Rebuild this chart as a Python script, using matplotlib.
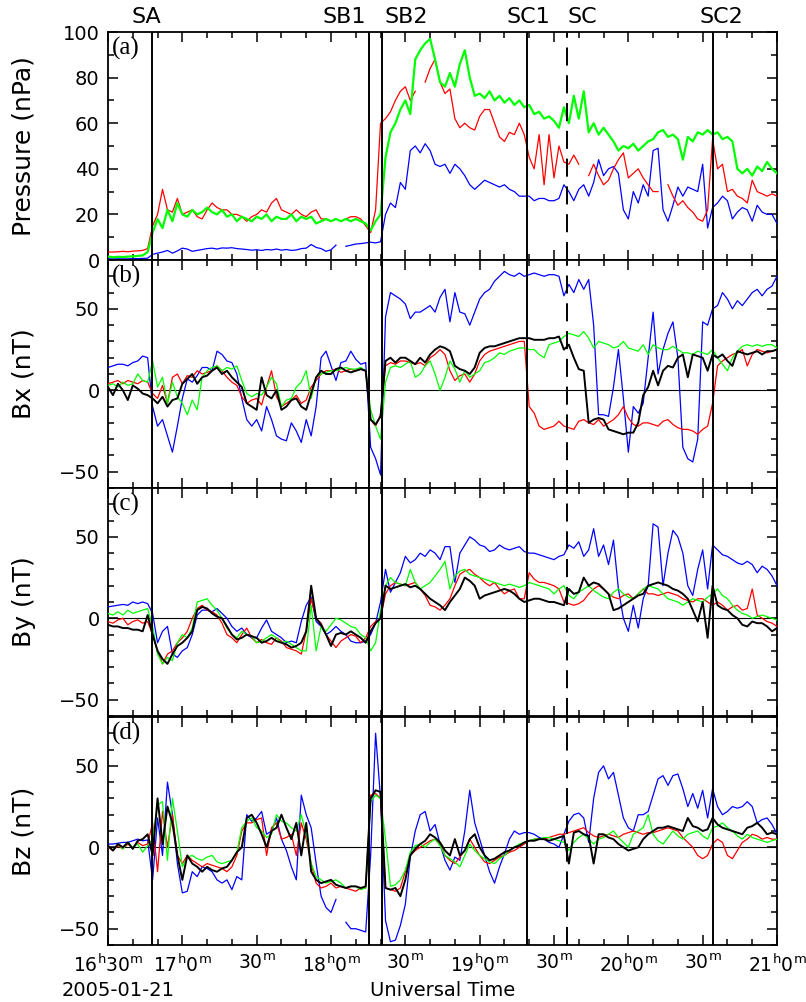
import numpy as np
import matplotlib
matplotlib.use('Agg')
import matplotlib.pyplot as plt
from matplotlib.ticker import MultipleLocator, FixedLocator
import matplotlib.transforms as mtransforms

nan = np.nan

# minutes after 16:30 UT, 2 min steps
minutes = np.arange(0, 272, 2)

# ---- panel (a) pressure (nPa)
p_red = [
    3.5, 3.5, 3.6, 3.8, 3.6, 3.9, 4.0, 4.2, 5.0, 15,
    20, 31, 22, 21, 27, 20, 21, 22, 19, 18,
    22, 25, 23, 22, 22, 20, 20, 19, 17, 19,
    20, 22, 21, 25, 27, 22, 21, 20, 22, 20,
    19, 21, 22, 18, 18, 17, 18, nan, 18, 19,
    19, 18, 15, 12, 22, 60, 62, 65, 70, 74,
    76, 70, 74, nan, 78, 84, 88, 78, 73, 75,
    62, 58, 60, 58, 57, 63, 66, 66, 60, 54,
    52, 56, 55, 60, 55, 45, 40, 55, 33, 55,
    36, 50, 43, 42, 46, 42, nan, 37, 42, 37,
    33, 35, 40, 44, 47, 36, 38, 40, 36, 33,
    30, 30, nan, 33, 28, 24, 26, 23, 21, 18,
    17, 22, 53, 40, 42, 30, 31, 28, 27, 25,
    35, 30, 29, 28, 29, 28]
p_green = [
    1.5, 1.2, 1.4, 1.3, 1.5, 1.6, 1.8, 2.0, 3.5, 12,
    18, 14, 22, 17, 25, 20, 19, 22, 20, 21,
    23, 21, 20, 22, 19, 20, 17, 19, 18, 17,
    19, 18, 20, 17, 19, 18, 18, 20, 17, 19,
    18, 19, 16, 17, 18, 17, 18, 17, 18, 17,
    18, 17, 16, 13, 17, 20, 45, 56, 60, 66,
    70, 64, 88, 92, 95, 97, 88, 78, 76, 82,
    76, 86, 92, 80, 72, 73, 71, 74, 70, 72,
    69, 71, 68, 70, 67, 68, 64, 65, 62, 63,
    61, 58, 67, 60, 72, 62, 74, 56, 60, 55,
    58, 55, 52, 48, 50, 49, 51, 48, 50, 52,
    53, 56, 57, 54, 55, 53, 44, 54, 52, 56,
    55, 57, 55, 56, 53, 54, 52, 40, 38, 40,
    37, 41, 39, 43, 40, 38]
p_blue = [
    0.5, 0.5, 0.5, 0.5, 0.5, 0.6, 0.6, 0.7, 0.8, 2.5,
    3.0, 3.5, 4.2, 3.0, 4.0, 5.2, 4.8, 3.8, 4.2, 4.6,
    5.0, 5.2, 4.8, 5.3, 5.2, 5.4, 5.0, 4.8, 4.6, 4.3,
    4.5, 4.2, 4.6, 4.4, 4.8, 4.3, 4.6, 4.2, 4.4, 5.0,
    5.2, 6.8, 5.5, 5.0, 3.8, 4.5, 6.5, nan, 6.0, 6.5,
    7.0, 7.2, 7.5, 7.8, 7.5, 8.0, 20, 25, 23, 34,
    31, 48, 50, 47, 51, 48, 42, 41, 42, 38,
    42, 40, 37, 33, 31, 33, 35, 34, 33, 32,
    33, 31, 30, 28, 28, 28, 26, 27, 27, 26,
    26, 27, 33, 30, 26, 31, 33, 28, 34, 44,
    37, 40, 41, 38, 22, 18, 30, 25, 33, 28,
    48, 49, 22, 17, 24, 32, 28, 32, 31, 30,
    42, 14, 23, 25, 28, 26, 18, 21, 23, 22,
    17, 24, 21, 20, 20, 16]

# ---- panel (b) Bx (nT)
bx_blue = [
    14, 15, 16, 16, 15, 17, 18, 21, 20, -10,
    -22, -18, -28, -38, -22, -5, 7, 5, 9, 14,
    14, 12, 24, 22, 18, 17, 10, -5, -18, -22,
    -18, -25, -10, -18, -28, -30, -31, -20, -25, -32,
    -18, -28, -10, 20, 24, 15, 6, 17, 18, 24,
    19, 16, 17, -35, -42, -52, 45, 60, 58, 56,
    53, 44, 48, 48, 50, 52, 48, 57, 62, 42,
    60, 48, 47, 40, 48, 56, 60, 62, 67, 70,
    73, 71, 70, 72, 70, 71, 72, 71, 70, 71,
    71, 70, 58, 65, 60, 68, 62, 68, 40, -15,
    -15, -16, 2, 25, -5, -38, -10, -14, -8, 20,
    48, 10, 25, 35, 42, 20, -35, -42, -44, -30,
    42, 40, 50, 52, 60, 56, 50, 55, 52, 56,
    60, 62, 58, 62, 64, 70]
bx_red = [
    4, 5, 6, 4, 6, 5, 4, 6, 5, -2,
    -5, 3, -8, 8, 10, 4, 9, 8, 12, 10,
    11, 12, 15, 12, 8, 5, 3, -4, -8, -6,
    -5, -9, 2, 12, -4, -10, -8, -6, -3, -8,
    -6, 2, 6, 10, 12, 12, 13, 11, 12, 13,
    12, 13, 12, -18, -22, -15, 15, 17, 16, 18,
    18, 17, 16, 17, 15, 20, 22, 25, 22, 12,
    6, 9, 10, 5, 10, 18, 22, 24, 25, 26,
    27, 28, 29, 30, 30, -10, -14, -22, -24, -23,
    -22, -19, -22, -23, -24, -19, -18, -20, -21, -18,
    -22, -20, -18, -15, -10, -17, -21, -22, -20, -20,
    -21, -22, -19, -18, -21, -23, -24, -24, -25, -27,
    -24, -22, -8, 15, 18, 20, 22, 23, 25, 15,
    22, 25, 24, 23, 24, 25]
bx_green = [
    3, 4, 2, 5, 3, 4, 10, 6, 5, 18,
    2, 8, -8, 5, -4, -8, -15, -6, -12, 8,
    12, 14, 15, 12, 14, 13, 15, 6, -2, -4,
    -2, -3, 2, 8, 4, -10, -6, -5, 2, 5,
    12, -5, 8, 10, 11, 12, 12, 13, 14, 13,
    13, 14, 12, -12, -22, -30, 5, 14, 15, 14,
    16, 18, 8, 10, 15, 18, 10, 0, 8, 18,
    13, 5, 12, 8, 10, 12, 17, 18, 20, 23,
    22, 24, 25, 26, 26, 25, 25, 22, 20, 28,
    29, 30, 33, 35, 34, 33, 36, 32, 26, 30,
    29, 28, 26, 27, 30, 26, 25, 24, 28, 22,
    28, 26, 25, 25, 27, 25, 23, 23, 22, 24,
    23, 22, 25, 20, 16, 12, 20, 24, 27, 28,
    27, 28, 27, 28, 28, 26]
bx_black = [
    2, -3, 4, 0, -6, 3, 1, -2, -3, -5,
    -8, -4, -10, -6, -5, 4, 7, 10, 4, 8,
    9, 12, 14, 10, 12, 8, 5, 2, -8, -10,
    -12, 8, -3, -5, 0, -12, -10, -6, -5, -10,
    -12, -2, 8, 12, 10, 10, 13, 14, 12, 11,
    12, 13, 12, -18, -21, -16, 18, 20, 17, 20,
    20, 18, 16, 20, 17, 22, 25, 27, 26, 24,
    15, 13, 12, 10, 14, 23, 26, 27, 27, 28,
    29, 30, 31, 32, 32, 32, 31, 31, 31, 32,
    32, 33, 25, 28, 20, 13, 12, -20, -18, -17,
    -18, -24, -25, -26, -27, -26, -26, -20, -3, 2,
    12, 3, 12, 15, 14, 20, 22, 8, 22, 21,
    20, 12, 22, 20, 22, 18, 15, 24, 23, 22,
    23, 24, 22, 24, 24, 25]

# ---- panel (c) By (nT)
by_blue = [
    7, 7.5, 8, 8.5, 8, 10, 9, 10, 9, 3,
    -15, -8, -5, -22, -24, -20, -18, -10, 2, 5,
    5, 4, 6, 3, 0, -5, -8, -6, -10, -12,
    -12, -6, -1, -8, -10, -12, -15, -14, -15, -2,
    8, 13, -2, -5, -10, -8, -5, -8, -10, -14,
    -15, -15, -14, -10, -3, 10, 30, 16, 22, 28,
    38, 34, 36, 40, 38, 42, 40, 36, 44, 44,
    22, 40, 45, 50, 48, 45, 44, 41, 42, 45,
    43, 42, 43, 44, 41, 40, 40, 39, 38, 37,
    36, 38, 39, 45, 43, 47, 38, 42, 55, 38,
    45, 33, 48, 18, 0, -8, 8, -6, 12, 20,
    58, 56, 20, 40, 54, 50, 40, 20, 14, 30,
    42, 18, 45, 42, 39, 38, 36, 34, 33, 35,
    33, 28, 32, 30, 26, 20]
by_red = [
    -2, -3, -1, 0, -4, -2, -1, -3, -2, -10,
    -20, -28, -22, -20, -15, -12, -8, 0, 6, 8,
    5, 4, 2, -3, -10, -12, -15, -10, -6, -12,
    -15, -13, -15, -16, -12, -14, -18, -19, -20, -22,
    -8, 12, 0, -3, -10, -14, -18, -14, -12, -10,
    -11, -15, -12, -5, -2, 0, 15, 20, 22, 21,
    20, 21, 22, 18, 14, 8, 7, 5, 8, 12,
    20, 27, 29, 30, 27, 25, 22, 20, 22, 18,
    15, 17, 18, 12, 12, 28, 24, 22, 22, 21,
    20, 18, 10, 9, 8, 9, 11, 15, 18, 20,
    18, 15, 13, 12, 14, 15, 12, 15, 18, 15,
    15, 14, 15, 16, 15, 14, 12, 11, 10, 12,
    12, 10, 8, 10, 8, 5, 7, 8, 5, 6,
    18, 2, 0, -2, -3, -5]
by_green = [
    3, 2, 4, 2, 5, 3, 4, 5, 6, -5,
    -22, -28, -24, -26, -15, -10, -12, -6, 10, 11,
    12, 8, 5, 0, -6, -10, -12, -8, -10, -11,
    -15, -14, -12, -10, -12, -15, -14, -16, -18, -20,
    -20, 8, -20, -5, -8, -4, 0, -1, -3, -5,
    -6, -10, -12, -20, -15, 5, 20, 25, 22, 21,
    20, 30, 22, 18, 20, 22, 26, 30, 35, 18,
    26, 29, 30, 27, 26, 25, 24, 23, 22, 21,
    20, 21, 20, 19, 20, 22, 21, 20, 19, 18,
    15, 18, 20, 14, 12, 16, 18, 20, 17, 15,
    13, 12, 16, 18, 15, 13, 12, 15, 18, 20,
    19, 18, 15, 12, 11, 10, 8, 10, 12, 11,
    10, 13, 15, 18, 14, 12, 8, 5, 3, 2,
    0, 1, 2, 1, 0, -1]
by_black = [
    -4, -5, -5, -6, -6, -7, -7, -8, 2, -10,
    -20, -25, -28, -22, -17, -15, -12, -8, 5, 7,
    6, 3, 1, 0, -5, -10, -13, -12, -10, -11,
    -12, -15, -14, -12, -14, -15, -16, -18, -17, -15,
    -8, 20, 0, -4, -10, -17, -10, -9, -10, -8,
    -10, -12, -15, -8, -3, 0, 20, 18, 19, 20,
    21, 19, 20, 18, 15, 12, 10, 8, 5, 10,
    14, 18, 25, 23, 20, 12, 14, 15, 16, 17,
    18, 17, 15, 12, 10, 11, 12, 12, 11, 10,
    10, 9, 8, 18, 15, 16, 25, 20, 22, 21,
    18, 15, 5, 6, 8, 10, 12, 14, 15, 20,
    21, 22, 21, 20, 18, 17, 15, 12, 5, -2,
    10, -12, 20, 8, 6, 5, 2, 0, -4, -5,
    -2, -3, -3, -5, -8, -6]

# ---- panel (d) Bz (nT)
bz_blue = [
    2, 2, 2.5, 3, 3, 4, 5, 4, 4.5, -20,
    18, -5, 40, 20, -10, -28, -27, -15, -18, -12,
    -13, -15, -20, -22, -20, -26, -18, -20, 20, 16,
    18, 22, 8, 10, 18, 5, -2, -12, -20, 32,
    20, 12, -10, -30, -37, -40, -32, nan, -46, -50,
    -50, -51, -52, -5, 70, 30, -45, -58, -57, -48,
    -35, -6, 10, 20, 22, 10, 14, 2, -8, -14,
    -6, -8, 10, 35, 15, 5, -5, -15, -22, -12,
    -4, 5, 10, 8, 9, 9, 8, 6, 5, 3,
    2, 0, 8, 16, 20, 21, 18, 3, 30, 46,
    50, 42, 46, 32, 18, 12, 10, 20, 20, 22,
    32, 42, 44, 38, 44, 45, 36, 25, 33, 24,
    35, 18, 36, 25, 20, 22, 25, 24, 25, 28,
    25, 15, 17, 18, 14, 8]
bz_red = [
    0, -2, 1, -1, 2, 0, 3, 1, 2, 15,
    -15, 22, 0, 20, -5, -10, -5, -8, -10, -12,
    -10, -11, -12, -13, -15, -12, -5, 10, 15, 15,
    17, 18, -5, 12, 15, 5, 6, 8, -5, 15,
    5, -10, -22, -25, -24, -22, -25, -24, -25, -26,
    -27, -25, -25, 32, 33, 30, -25, -26, -27, -25,
    -15, -5, -2, 0, 2, 4, 5, 2, -5, -8,
    -10, -6, -2, 5, 0, -5, -9, -10, -8, -6,
    -5, -3, -2, 0, 2, 4, 5, 5, 5, 6,
    7, 8, 8, 9, 10, 11, 12, 9, 7, 6,
    7, 8, 7, 6, 8, 9, 10, 9, 8, 9,
    9, 10, 11, 12, 11, 10, 6, 3, 0, -5,
    -7, -5, 2, 5, 3, -5, -7, -2, 3, 5,
    8, 7, 5, 6, 5, 5]
bz_green = [
    1, -2, 2, -1, 3, 0, 2, -3, 1, 5,
    26, 28, -8, 30, 10, -12, -6, -5, -7, -8,
    -6, -5, -9, -10, -9, -8, -3, 12, 16, 18,
    12, 10, 6, 8, 20, 16, 15, 12, 10, 20,
    8, -10, -18, -20, -22, -21, -20, -22, -25, -24,
    -24, -26, -25, 28, 32, 30, 5, -24, -23, -20,
    -14, -3, 1, 2, 0, 3, 5, 1, -5, -7,
    -9, -12, -5, 2, -2, -5, -7, -9, -10, -7,
    -5, -2, 0, 2, 3, 4, 5, 5, 6, 6,
    5, 4, 3, -2, 3, 6, 8, 5, 2, 5,
    6, 8, 10, 6, 3, 0, 8, 10, 12, 20,
    8, 4, 2, 6, 10, 7, 5, 8, 9, 10,
    7, 5, 12, 13, 15, 12, 10, 7, 5, 8,
    6, 5, 4, 3, 4, 5]
bz_black = [
    1, -2, 2, 0, 3, -1, 4, 5, 8, -5,
    30, 2, 25, 15, -5, -20, -5, -10, -12, -15,
    -12, -14, -15, -13, -12, -8, -3, 0, 18, 20,
    15, 8, 0, 10, 12, 20, 12, 5, 15, -5,
    15, -15, -20, -22, -21, -20, -23, -24, -25, -24,
    -24, -25, -24, 30, 35, 34, -25, -26, -25, -30,
    -20, -5, -1, 2, 4, 8, 6, 3, -2, -5,
    5, -5, -2, 5, 8, 0, -5, -8, -7, -5,
    -3, -2, 0, 1, 3, 4, 4, 5, 5, 4,
    5, 6, 7, -10, 9, 10, 8, 7, -10, 8,
    8, 6, 5, 2, 0, -2, -1, 0, 5, 8,
    10, 12, 12, 13, 12, 11, 10, 18, 13, 12,
    10, 11, 18, 14, 12, 11, 10, 9, 8, 12,
    13, 15, 12, 8, 9, 8]

# boundaries (minutes after 16:30)
event_names = ['SA', 'SB1', 'SB2', 'SC1', 'SC', 'SC2']
event_times = [17.6, 105.3, 110.5, 169.0, 185.1, 244.3]
event_label_x = [15.3, 95.4, 120.3, 169.7, 191.3, 247.4]

xtick_pos = [0, 30, 60, 90, 120, 150, 180, 210, 240, 270]
xtick_labels = [r'$16^{h}30^{m}$', r'$17^{h}0^{m}$', r'$30^{m}$', r'$18^{h}0^{m}$',
                r'$30^{m}$', r'$19^{h}0^{m}$', r'$30^{m}$', r'$20^{h}0^{m}$',
                r'$30^{m}$', r'$21^{h}0^{m}$']

plt.rcParams['font.family'] = 'DejaVu Sans'
plt.rcParams['mathtext.default'] = 'regular'
plt.rcParams['lines.scale_dashes'] = False

W, H = 806, 1002
fig = plt.figure(figsize=(W / 100, H / 100), dpi=100)
ax_left, ax_right = 108, 777
panel_tops = [32, 260, 488, 717]
panel_h = 228

panels = [
    ('(a)', 'Pressure (nPa)', (0, 100), [p_blue, p_red, p_green, None]),
    ('(b)', 'Bx (nT)', (-60, 80), [bx_blue, bx_red, bx_green, bx_black]),
    ('(c)', 'By (nT)', (-60, 80), [by_blue, by_red, by_green, by_black]),
    ('(d)', 'Bz (nT)', (-60, 80), [bz_blue, bz_red, bz_green, bz_black]),
]
colors = ['#0000ff', '#ff0000', '#00ff00', 'black']

axes = []
for i, (tag, ylab, ylim, series) in enumerate(panels):
    top = panel_tops[i]
    ax = fig.add_axes([ax_left / W, 1 - (top + panel_h) / H,
                       (ax_right - ax_left) / W, panel_h / H])
    axes.append(ax)
    for s, c in zip(series, colors):
        if s is None:
            continue
        lw = 1.4 if c == 'black' else 0.9
        if i == 0 and c == '#00ff00':
            lw = 1.6
        ax.plot(minutes, s, color=c, lw=lw, zorder=3)
    if i > 0:
        ax.axhline(0, color='black', lw=0.8, zorder=2)
    for t in event_times:
        if t == 185.1:
            ax.axvline(t, color='black', lw=1.4, linestyle=(0, (13, 7)), zorder=4)
        else:
            ax.axvline(t, color='black', lw=1.4, zorder=4)
    ax.set_xlim(0, 270)
    ax.set_ylim(*ylim)
    if i == 0:
        ax.yaxis.set_major_locator(MultipleLocator(20))
    else:
        ax.yaxis.set_major_locator(FixedLocator([-50, 0, 50]))
    ax.yaxis.set_minor_locator(MultipleLocator(10))
    ax.xaxis.set_major_locator(FixedLocator(xtick_pos))
    ax.xaxis.set_minor_locator(MultipleLocator(10))
    ax.tick_params(which='both', direction='in', top=True, right=True, width=1.1)
    ax.tick_params(which='major', length=7)
    ax.tick_params(which='minor', length=4)
    ax.tick_params(axis='y', labelsize=14, pad=6)
    for sp in ax.spines.values():
        sp.set_linewidth(1.3)
    ax.text(0.006, 0.978, tag, transform=ax.transAxes, ha='left', va='top',
            family='Liberation Serif', fontsize=18)
    fig.text(24 / W, 1 - (top + panel_h / 2) / H, ylab, rotation=90,
             ha='center', va='center', fontsize=18)
    if i < 3:
        ax.tick_params(labelbottom=False)
    else:
        ax.set_xticklabels(xtick_labels)
        ax.tick_params(axis='x', labelsize=13.5, pad=6)

trans = mtransforms.blended_transform_factory(axes[0].transData, axes[0].transAxes)
for name, xl in zip(event_names, event_label_x):
    axes[0].text(xl, 1 + 15 / panel_h, name, transform=trans, ha='center',
                 va='center', fontsize=16)

fig.text(62 / W, 1 - 990 / H, '2005-01-21', ha='left', va='center', fontsize=14)
fig.text((ax_left + ax_right) / 2 / W, 1 - 990 / H, 'Universal Time',
         ha='center', va='center', fontsize=14)

fig.savefig('out.png', dpi=100)
